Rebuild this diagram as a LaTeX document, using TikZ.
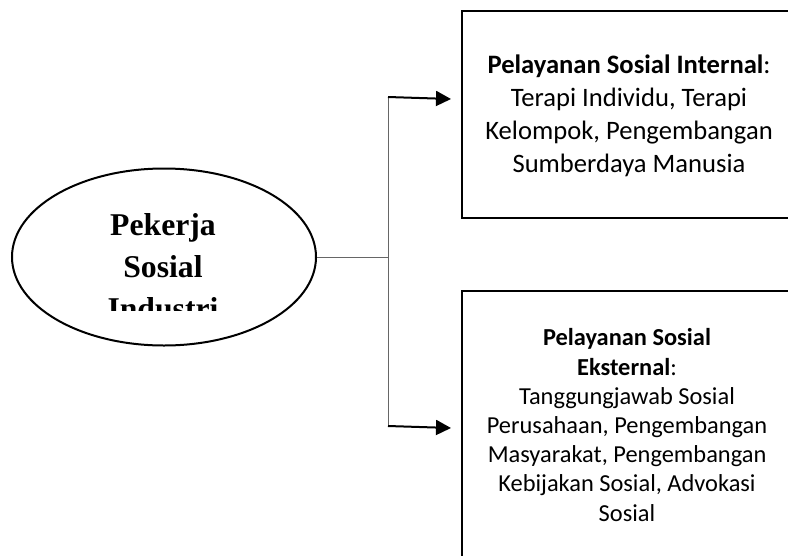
\documentclass[tikz,border=0pt]{standalone}
\usepackage{fontspec}
\setmainfont{Carlito}
\newfontfamily\timesfont{Liberation Serif}
\usetikzlibrary{shapes.geometric, arrows.meta}
\tikzset{worker/.style={draw,ellipse,line width=2pt,minimum width=304pt,minimum height=177pt,inner sep=0pt},
         service/.style={draw,rectangle,line width=2pt,anchor=north west,inner sep=0pt},
         branch/.style={draw=black!60,line width=1pt},
         feed/.style={line width=2pt,-{Triangle[length=15pt,width=15pt]}},
        }

\begin{document}
\begin{tikzpicture}[x=1pt,y=-1pt]
        \clip(0,0)rectangle(788,555);
        \node[worker](psi)at(164,257){};
        \begin{scope}
            \clip(0,0)rectangle(788,310);
            \node[anchor=base,align=center,font=\timesfont\bfseries\fontsize{31.7}{42}\selectfont](psitext)at(163,319){Pekerja\\Sosial\\Industri};
        \end{scope}

        \node[service,minimum width=336pt,minimum height=207pt](internal)at(461,10){};
        \node[align=center,font=\fontsize{26.6}{33}\selectfont](internaltext)at(629,116){\textbf{Pelayanan Sosial Internal}:\\Terapi Individu, Terapi\\Kelompok, Pengembangan\\Sumberdaya Manusia};
        \node[service,minimum width=336pt,minimum height=280pt](external)at(461,290){};
        \node[align=center,font=\fontsize{24.4}{29.2}\selectfont](externaltext)at(627,425){\textbf{Pelayanan Sosial}\\\textbf{Eksternal}:\\Tanggungjawab Sosial\\Perusahaan, Pengembangan\\Masyarakat, Pengembangan\\Kebijakan Sosial, Advokasi\\Sosial};

        \coordinate(up)at(388,97);
        \coordinate(down)at(388,426);
        \coordinate(tipa)at(451,99);
        \coordinate(tipb)at(451,428);

        \draw[branch](psi.east)--(psi.east-|up);
        \draw[branch](up)--(down);
        \draw[feed](up)--(tipa);
        \draw[feed](down)--(tipb);
    \end{tikzpicture}
\end{document}
